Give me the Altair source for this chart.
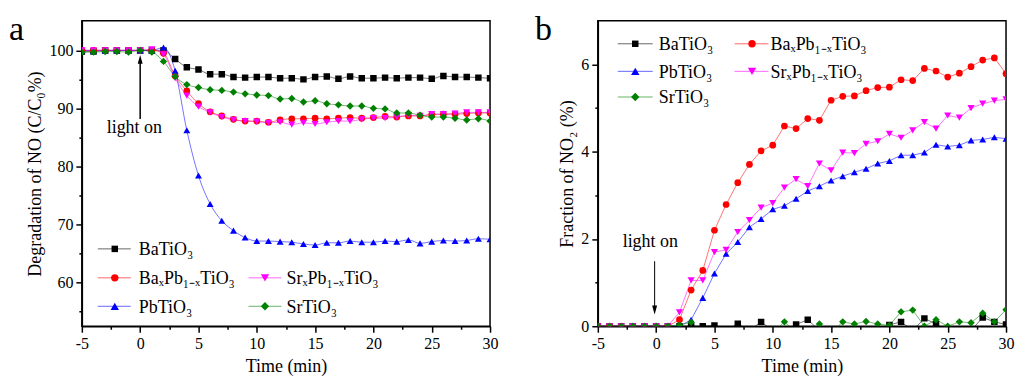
import altair as alt
import pandas as pd

FONT = "'Liberation Serif', 'Times New Roman', Times, serif"

series = ["BaTiO₃", "BaₓPb₁₋ₓTiO₃", "PbTiO₃", "SrₓPb₁₋ₓTiO₃", "SrTiO₃"]
colors = ["#000000", "#ff0000", "#0000ff", "#ff00ff", "#008000"]
shapes = ["square", "circle", "triangle-up", "triangle-down", "diamond"]
sizes = [42, 55, 70, 70, 70]

time = list(range(-5, 31))

# Panel a: Degradation of NO (C/C0 %)
a_BaTiO3 = [99.8, 99.8, 100, 100, 100, 100, 100, 100, 98.5, 97.1, 96.7, 95.9, 95.9, 95.4, 95.3, 95.4,
            95.4, 95.2, 95.2, 95.0, 95.4, 95.5, 95.1, 95.5, 95.2, 95.2, 95.3, 95.2, 95.3, 95.3, 95.1,
            95.6, 95.4, 95.4, 95.3, 95.2]
a_BaPb = [100, 100, 100, 100, 100, 100, 100, 99.5, 95.6, 93.0, 90.8, 89.4, 88.7, 88.1, 87.8, 87.8,
          87.6, 88.0, 88.2, 88.2, 88.3, 88.2, 88.3, 88.4, 88.3, 88.4, 88.6, 88.5, 88.7, 88.7, 88.9,
          89.0, 89.0, 89.1, 89.2, 89.2]
a_PbTiO3 = [100, 100, 100, 100, 100, 100, 100, 100.5, 96.5, 86.2, 78.4, 73.5, 70.6, 68.9, 67.7, 67.1,
            67.1, 67.0, 66.9, 66.6, 66.4, 66.8, 66.8, 67.1, 66.9, 66.9, 67.1, 67.0, 67.3, 66.7, 67.0,
            67.2, 67.1, 67.2, 67.5, 67.4]
a_SrPb = [100, 100, 100, 100, 100, 100, 100.2, 99.3, 95.2, 92.2, 90.3, 89.3, 88.5, 88.0, 87.8, 87.7,
          87.5, 87.6, 87.2, 87.5, 87.3, 87.6, 87.8, 87.8, 88.1, 88.3, 88.3, 88.5, 88.8, 88.7, 89.0,
          89.0, 89.1, 89.3, 89.3, 89.3]
a_SrTiO3 = [99.7, 99.7, 99.8, 99.8, 99.7, 100.0, 99.7, 98.1, 95.5, 94.1, 93.6, 93.2, 93.1, 92.8, 92.5,
            92.3, 92.2, 91.6, 91.7, 91.1, 91.3, 90.8, 90.6, 90.4, 90.4, 90.0, 89.9, 89.2, 89.2, 88.8,
            88.5, 88.5, 88.3, 88.0, 88.2, 87.8]

# Panel b: Fraction of NO2 (%)
b_BaTiO3 = [0, 0, 0, 0, 0, 0, 0, 0, 0, 0, 0.02, -0.1, 0.06, -0.1, 0.1, -0.1, -0.1, 0.04, 0.15, -0.1,
            -0.1, -0.1, -0.1, -0.1, -0.1, 0.03, 0.1, -0.1, 0.18, 0.05, -0.1, -0.1, -0.1, 0.2, 0.1, 0.04]
b_BaPb = [0, 0, 0, 0, 0, 0, 0, 0.15, 0.83, 1.28, 2.2, 2.79, 3.29, 3.71, 4.02, 4.15, 4.59, 4.53, 4.76,
          4.72, 5.18, 5.27, 5.28, 5.40, 5.47, 5.48, 5.65, 5.63, 5.91, 5.85, 5.71, 5.80, 5.95, 6.10,
          6.15, 5.79]
b_PbTiO3 = [0, 0, 0, 0, 0, 0, 0, 0, 0.15, 0.65, 1.21, 1.66, 1.93, 2.27, 2.46, 2.68, 2.76, 2.92, 3.10,
            3.21, 3.34, 3.44, 3.53, 3.61, 3.73, 3.79, 3.92, 3.92, 3.98, 4.16, 4.12, 4.15, 4.26, 4.28,
            4.33, 4.30]
b_SrPb = [0, 0, 0, 0, 0, 0, 0, 0.32, 1.05, 1.05, 1.70, 1.75, 2.16, 2.43, 2.72, 2.82, 3.18, 3.37, 3.21,
          3.73, 3.57, 3.98, 3.97, 4.18, 4.24, 4.41, 4.32, 4.49, 4.68, 4.53, 4.83, 4.78, 5.00, 5.10,
          5.17, 5.20]
b_SrTiO3 = [0, 0, 0, 0, 0, 0, 0, 0.03, 0.09, -0.15, -0.15, -0.15, -0.15, -0.15, -0.15, -0.15, 0.1,
            -0.15, -0.15, 0.05, -0.15, 0.1, 0.05, 0.11, 0.05, 0.02, 0.33, 0.37, 0.0, 0.15, 0.0, 0.1,
            0.08, 0.3, 0.1, 0.38]

x_ticks = [-5 + 2.5 * i for i in range(15)]
ya_ticks = [55, 60, 65, 70, 75, 80, 85, 90, 95, 100]
yb_ticks = [0, 1, 2, 3, 4, 5, 6]

# annotation anchors (data units)
light_a = {"text_t": -0.5, "text_v": 85.7, "t": 0.0, "from": 88.15, "head": 98.45}
light_b = {"text_t": -0.5, "text_v": 1.81, "t": -0.13, "from": 1.49, "head": 0.37}

W, H = 409, 306


def long_df(cols):
    rows = []
    for name, vals in zip(series, cols):
        for t, v in zip(time, vals):
            rows.append({"s": name, "t": t, "v": v})
    return pd.DataFrame(rows)


cscale = alt.Scale(domain=series, range=colors)
sscale = alt.Scale(domain=series, range=shapes)
zscale = alt.Scale(domain=series, range=sizes)


def tick_size(major):
    return {"condition": {"test": f"datum.value % {major} !== 0", "value": 3}, "value": 6}


def one():
    return pd.DataFrame({"k": [0]})


AX = dict(labelFont=FONT, titleFont=FONT, labelFontSize=16, titleFontSize=18,
          titleFontWeight="normal", labelFontWeight="normal", labelColor="black", titleColor="black",
          domainColor="black", domainWidth=1.5, tickColor="black", tickWidth=1.5, grid=False,
          labelOverlap=False, labelFlush=False)


def make_panel(df, ydomain, yvals, ymajor, ytitle, interp, letter, letter_x, legend_items, ann,
               head_shape, arrow_w):
    xaxis = alt.Axis(title="Time (min)", values=x_ticks,
                     labelExpr="datum.value % 5 === 0 ? '' + datum.value : ''",
                     tickSize=tick_size(5), titlePadding=6, labelPadding=3, **AX)
    yaxis = alt.Axis(title=ytitle, values=yvals,
                     labelExpr=f"datum.value % {ymajor} === 0 ? '' + datum.value : ''",
                     tickSize=tick_size(ymajor), titlePadding=4, labelPadding=3, **AX)
    X = alt.X("t:Q", scale=alt.Scale(domain=[-5, 30], nice=False, zero=False), axis=xaxis)
    Y = alt.Y("v:Q", scale=alt.Scale(domain=ydomain, nice=False, zero=False), axis=yaxis)
    Y2 = alt.Y2("v2:Q")

    base = alt.Chart(df)
    lines = base.mark_line(strokeWidth=1, strokeOpacity=0.55, clip=True, interpolate=interp).encode(
        x=X, y=Y, color=alt.Color("s:N", scale=cscale, legend=None), detail="s:N")
    points = base.mark_point(filled=True, opacity=1, clip=True).encode(
        x=X, y=Y,
        color=alt.Color("s:N", scale=cscale, legend=None),
        shape=alt.Shape("s:N", scale=sscale, legend=None),
        size=alt.Size("s:N", scale=zscale, legend=None))

    layers = [lines, points]

    # "light on" annotation
    txt = alt.Chart(pd.DataFrame({"t": [ann["text_t"]], "v": [ann["text_v"]]})).mark_text(
        text="light on", font=FONT, fontSize=18, align="center", baseline="alphabetic",
        color="black").encode(x=X, y=Y)
    shaft = alt.Chart(pd.DataFrame({"t": [ann["t"]], "v": [ann["from"]], "v2": [ann["head"]]})).mark_rule(
        color="black", strokeWidth=arrow_w).encode(x=X, y=Y, y2=Y2)
    head = alt.Chart(pd.DataFrame({"t": [ann["t"]], "v": [ann["head"]]})).mark_point(
        shape=head_shape, filled=True, color="black", size=81, opacity=1).encode(x=X, y=Y)
    layers += [shaft, head, txt]

    # manual legend
    for idx, x0, x1, xm, xt, yy in legend_items:
        layers.append(alt.Chart(one()).mark_rule(color=colors[idx], strokeWidth=1, strokeOpacity=0.6).encode(
            x=alt.value(x0), x2=alt.value(x1), y=alt.value(yy)))
        layers.append(alt.Chart(one()).mark_point(shape=shapes[idx], filled=True, color=colors[idx],
                                                  size=sizes[idx], opacity=1).encode(
            x=alt.value(xm), y=alt.value(yy)))
        layers.append(alt.Chart(one()).mark_text(text=series[idx], font=FONT, fontSize=18, align="left",
                                                 baseline="alphabetic", color="black").encode(
            x=alt.value(xt), y=alt.value(yy + 6.5)))

    layers.append(alt.Chart(one()).mark_text(text=letter, font=FONT, fontSize=34, align="left",
                                             baseline="alphabetic", color="black").encode(
        x=alt.value(letter_x), y=alt.value(19)))

    return alt.layer(*layers).properties(width=W, height=H)


legend_a = [
    (0, 16, 49, 33, 57, 228.5),
    (1, 16, 49, 33, 57, 257.5),
    (3, 167, 200, 183.5, 205, 257.5),
    (2, 16, 49, 33, 57, 286),
    (4, 167, 200, 183.5, 205, 286),
]
legend_b = [
    (0, 20, 55, 37.5, 61, 23),
    (2, 20, 55, 37.5, 61, 50.6),
    (4, 20, 55, 37.5, 61, 76.3),
    (1, 137, 171, 154.5, 173, 23),
    (3, 137, 171, 154.5, 173, 50.6),
]

panel_a = make_panel(long_df([a_BaTiO3, a_BaPb, a_PbTiO3, a_SrPb, a_SrTiO3]), [52.4, 105.1], ya_ticks, 10,
                     "Degradation of NO (C/C₀%)", "monotone", "a", -73, legend_a, light_a,
                     "M0,-1L0.55,1L-0.55,1Z", 1.5)
panel_b = make_panel(long_df([b_BaTiO3, b_BaPb, b_PbTiO3, b_SrPb, b_SrTiO3]), [0, 7], yb_ticks, 2,
                     "Fraction of NO₂ (%)", "linear", "b", -63, legend_b, light_b,
                     "M0,1L0.55,-1L-0.55,-1Z", 1)

chart = alt.hconcat(panel_a, panel_b, spacing=35).properties(
    padding={"left": 0, "top": 3.5, "right": 0, "bottom": 0}
).configure(font=FONT).configure_view(stroke="black", strokeWidth=1.5).configure_axis(
    labelFont=FONT, titleFont=FONT, titleFontWeight="normal"
)

chart.save("out.html", embed_options={"renderer": "svg", "actions": False})
